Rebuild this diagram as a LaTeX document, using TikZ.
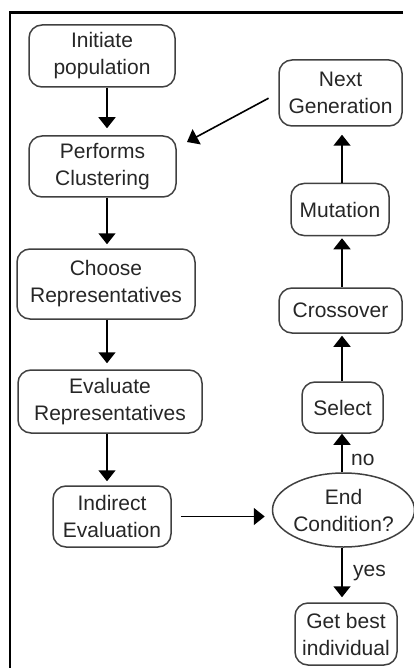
\documentclass[tikz,border=0pt]{standalone}
\usepackage{fontspec}
\setmainfont{Liberation Sans}
\usetikzlibrary{shapes.geometric,arrows.meta}
\begin{document}
\begin{tikzpicture}[x=1pt,y=-1pt,
  every node/.style={font=\fontsize{21}{27}\selectfont, text=black!85, align=center, inner sep=0pt},
  rbox/.style={draw=black!75, line width=1.5pt, rounded corners=13pt},
  ebox/.style={draw=black!75, line width=1.5pt, ellipse},
  arr/.style={draw=black, line width=1.6pt, -{Triangle[width=17pt,length=11pt]}},
  frame/.style={draw=black, line width=2.2pt},
  lab/.style={anchor=west}]
\useasboundingbox (0,0) rectangle (413,668);
% frame
\coordinate (fTL) at (10,12.5);
\coordinate (fTR) at (403,12.5);
\coordinate (fBL) at (10,668);
\draw[frame] (fTR) -- (fTL) -- (fBL);
% left column
\node[rbox, minimum width=146pt, minimum height=62pt] (init) at (102,56) {Initiate\\population};
\node[rbox, minimum width=147pt, minimum height=61pt] (clust) at (102.5,166.5) {Performs\\Clustering};
\node[rbox, minimum width=178pt, minimum height=70pt] (choose) at (106,284) {Choose\\Representatives};
\node[rbox, minimum width=184pt, minimum height=63pt] (evalr) at (110,401.5) {Evaluate\\Representatives};
\node[rbox, minimum width=118pt, minimum height=61pt] (indir) at (112,516.5) {Indirect\\Evaluation};
% right column
\node[ebox, minimum width=133pt, minimum height=74pt] (endc) at (343.5,510) {End\\Condition?};
\node[rbox, minimum width=102pt, minimum height=62pt] (best) at (346,634) {Get best\\individual};
\node[rbox, minimum width=81pt, minimum height=51pt] (sel) at (342.5,407.5) {Select};
\node[rbox, minimum width=123pt, minimum height=45pt] (cross) at (340.5,310.5) {Crossover};
\node[rbox, minimum width=98pt, minimum height=52pt] (mut) at (340,209.5) {Mutation};
\node[rbox, minimum width=123pt, minimum height=66pt] (next) at (340.5,93) {Next\\Generation};
% column coordinates
\coordinate (lx) at (107,0);
\coordinate (rx) at (342,0);
\coordinate (ntip) at (187,142);
% left arrows
\draw[arr, shorten >=7pt] (init.south -| lx) -- (clust.north -| lx);
\draw[arr, shorten >=4pt] (clust.south -| lx) -- (choose.north -| lx);
\draw[arr, shorten >=6pt] (choose.south -| lx) -- (evalr.north -| lx);
\draw[arr, shorten >=4pt] (evalr.south -| lx) -- (indir.north -| lx);
\draw[arr, shorten <=9pt, shorten >=7pt] (indir.east) -- (indir.east -| endc.west);
% right arrows
\draw[arr] (endc.north -| rx) -- (sel.south -| rx);
\draw[arr, shorten >=2pt] (sel.north -| rx) -- (cross.south -| rx);
\draw[arr, shorten >=2pt] (cross.north -| rx) -- (mut.south -| rx);
\draw[arr, shorten >=8pt] (mut.north -| rx) -- (next.south -| rx);
\draw[arr, shorten >=5pt] (endc.south -| rx) -- (best.north -| rx);
\draw[arr, shorten <=11pt] (next.west) -- (ntip);
% labels
\node[lab] (no) at (351,460) {no};
\node[lab] (yes) at (353,573) {yes};
\end{tikzpicture}
\end{document}
